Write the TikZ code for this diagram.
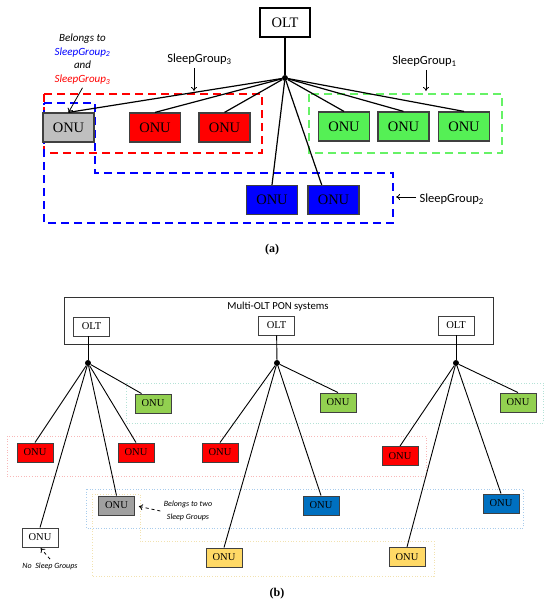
\documentclass[tikz,border=0pt]{standalone}
\usepackage{fontspec}
\setmainfont{Liberation Serif}
\newfontfamily\calibri{Carlito}
\usepackage{xcolor}
\definecolor{rojoSG}{HTML}{FF0000}
\definecolor{azulSG}{HTML}{0000FF}
\definecolor{verdeSG}{HTML}{55F055}
\definecolor{verdeLinea}{HTML}{66F266}
\definecolor{grisSG}{HTML}{BFBFBF}
\definecolor{verdeB}{HTML}{92D050}
\definecolor{azulB}{HTML}{0070C0}
\definecolor{amarilloB}{HTML}{FFD966}
\definecolor{grisB}{HTML}{A0A0A0}
\definecolor{grupoVerde}{HTML}{B4E2D6}
\definecolor{grupoRojo}{HTML}{F8B8B8}
\definecolor{grupoAzul}{HTML}{A8CCEC}
\definecolor{grupoAmarillo}{HTML}{F2E2B0}
\usetikzlibrary{arrows.meta,positioning,calc}

\tikzset{
  onuA/.style={draw=black!75,line width=1.2pt,minimum width=51pt,minimum height=29pt,
    inner sep=0pt,font=\fontsize{14.5}{16}\selectfont},
  onuB/.style={draw=black!75,line width=0.9pt,minimum width=36pt,minimum height=19pt,
    inner sep=0pt,font=\fontsize{10.5}{12}\selectfont},
  hub/.style={circle,fill=black,inner sep=0pt,minimum size=6pt},
  enlaceA/.style={line width=1.2pt},
  enlaceB/.style={line width=0.9pt},
  grupoA/.style={line width=1.8pt,dash pattern=on 8pt off 5pt},
  grupoB/.style={line width=0.7pt,dotted},
  etiqueta/.style={font=\calibri\fontsize{12.5}{14}\selectfont},
}

\begin{document}
\begin{tikzpicture}[x=1pt,y=-1pt,>={To[length=4pt,width=6pt]}]
\useasboundingbox (0,0) rectangle (550,606);

% (a) Grupos
\draw[grupoA,draw=rojoSG] (44,94) rectangle (262,153);
\draw[grupoA,draw=verdeLinea] (309,94) rectangle (502,153);
\draw[grupoA,draw=azulSG]
    (44,103) -- (95,103) -- (95,173) -- (393,173) -- (393,223) -- (44,223) -- cycle;

% (a) Nodos
\node[draw,line width=1.1pt,minimum width=50pt,minimum height=29pt,inner sep=0pt,
    font=\fontsize{14.5}{16}\selectfont] (olt) at (285,22.5) {OLT};
\node[hub] (hubA) at (285,78) {};

\node[onuA,fill=grisSG] (gA) at (68.5,127.5) {ONU};
\node[onuA,fill=rojoSG] (rA1) at (155,127.5) {ONU};
\node[onuA,fill=rojoSG] (rA2) at (224.5,127.5) {ONU};
\node[onuA,fill=verdeSG] (vA1) at (344,126.5) {ONU};
\node[onuA,fill=verdeSG] (vA2) at (403.5,126.5) {ONU};
\node[onuA,fill=verdeSG] (vA3) at (464,126.5) {ONU};
\node[onuA,fill=azulSG] (aA1) at (272,200) {ONU};
\node[onuA,fill=azulSG] (aA2) at (333.5,200) {ONU};

% (a) Enlaces
\draw[enlaceA] (olt) -- (hubA);
\foreach \n in {gA,rA1,rA2,vA1,vA2,vA3,aA1}
    \draw[enlaceA] (hubA) -- (\n.north);
\draw[enlaceA] (hubA) -- (aA2.128);

% (a) Etiquetas
\node[etiqueta] (sg3) at (199.5,59) {SleepGroup\textsubscript{3}};
\coordinate (sg3p) at (194,91);
\draw[->,line width=0.8pt] (sg3.south -| sg3p) -- (sg3p);

\node[etiqueta] (sg1) at (424.5,61) {SleepGroup\textsubscript{1}};
\coordinate (sg1p) at (426,91);
\draw[->,line width=0.8pt] (sg1.south -| sg1p) -- (sg1p);

\node[etiqueta,anchor=west] (sg2) at (416,199) {SleepGroup\textsubscript{2}};
\coordinate (sg2p) at (396,197);
\draw[->,line width=0.8pt] (sg2.west |- sg2p) -- (sg2p);

\node[align=center,font=\calibri\itshape\fontsize{11}{13.7}\selectfont] (pertA) at (82.5,59)
    {Belongs to\\\textcolor{azulSG}{SleepGroup\textsubscript{2}}\\and\\
     \textcolor{rojoSG}{SleepGroup\textsubscript{3}}};
\draw[->,line width=0.8pt] (pertA.south) -- (gA.north);

\node[font=\bfseries\fontsize{12}{14}\selectfont] (capA) at (272,250) {(a)};

% (b) Grupos
\draw[grupoB,draw=grupoVerde] (126,383) rectangle (543,423);
\draw[grupoB,draw=grupoRojo] (7,436) rectangle (426,476);
\draw[grupoB,draw=grupoAzul] (86,489) rectangle (523,528);
\draw[grupoB,draw=grupoAmarillo]
    (92,494) -- (140,494) -- (140,541) -- (434,541) -- (434,576) -- (92,576) -- cycle;

% (b) Sistema multi-OLT
\draw[line width=0.9pt,draw=black!80] (64,297) rectangle (493,344);
\node[font=\calibri\fontsize{10.7}{12}\selectfont] (multi) at (278,307) {Multi-OLT PON systems};

\node[onuB] (oltB1) at (91.5,326.5) {OLT};
\node[onuB] (oltB2) at (276.5,325.5) {OLT};
\node[onuB] (oltB3) at (456,325.5) {OLT};

\node[hub] (hubB1) at (88,363) {};
\node[hub] (hubB2) at (277,363) {};
\node[hub] (hubB3) at (456,363) {};

% (b) Nodos
\node[onuB,fill=verdeB] (vB1) at (153,403.5) {ONU};
\node[onuB,fill=verdeB] (vB2) at (338,402.5) {ONU};
\node[onuB,fill=verdeB] (vB3) at (518,402.5) {ONU};

\node[onuB,fill=rojoSG] (rB1) at (35,452.5) {ONU};
\node[onuB,fill=rojoSG] (rB2) at (136,452.5) {ONU};
\node[onuB,fill=rojoSG] (rB3) at (220,452.5) {ONU};
\node[onuB,fill=rojoSG] (rB4) at (400,456) {ONU};

\node[onuB,fill=grisB] (gB) at (116.5,505.5) {ONU};
\node[onuB,fill=white] (wB) at (40,537.5) {ONU};

\node[onuB,fill=azulB] (aB1) at (321,505.5) {ONU};
\node[onuB,fill=azulB] (aB2) at (501,503.5) {ONU};

\node[onuB,fill=amarilloB] (yB1) at (224,557.5) {ONU};
\node[onuB,fill=amarilloB] (yB2) at (407,557) {ONU};

% (b) Enlaces
\draw[enlaceB] (hubB1) -- (hubB1 |- oltB1.south);
\draw[enlaceB] (hubB2) -- (oltB2);
\draw[enlaceB] (hubB3) -- (oltB3);
\foreach \n in {rB1,wB,gB,rB2}
    \draw[enlaceB] (hubB1) -- (\n.north);
\draw[enlaceB] (hubB1) -- (vB1.139);
\foreach \n in {rB3,yB1,aB1,vB2}
    \draw[enlaceB] (hubB2) -- (\n.north);
\foreach \n in {rB4,yB2,aB2,vB3}
    \draw[enlaceB] (hubB3) -- (\n.north);

% (b) Etiquetas
\node[align=center,font=\calibri\itshape\fontsize{8}{13}\selectfont] (pertB) at (188,510.5)
    {Belongs to two\\Sleep Groups};
\draw[->,dashed,line width=0.8pt,shorten >=4pt] (pertB.west |- 0,511) -- (gB.east);

\node[font=\calibri\itshape\fontsize{8}{10}\selectfont] (ningB) at (50,566)
    {No\ \ Sleep Groups};
\draw[->,dashed,line width=0.8pt,shorten >=1pt] (ningB.north) -- (wB.south);

\node[font=\bfseries\fontsize{12}{14}\selectfont] (capB) at (277,594) {(b)};

\end{tikzpicture}
\end{document}
